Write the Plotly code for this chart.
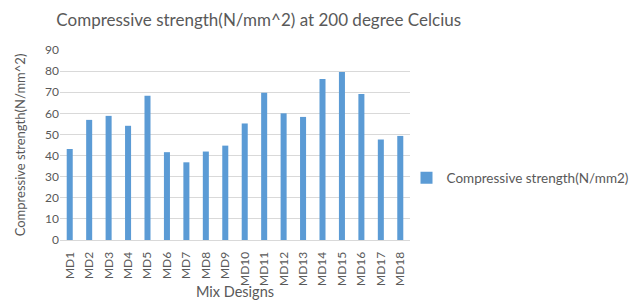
import plotly.graph_objects as go

categories = ["MD1","MD2","MD3","MD4","MD5","MD6","MD7","MD8","MD9","MD10",
              "MD11","MD12","MD13","MD14","MD15","MD16","MD17","MD18"]
strength = [43.1, 56.9, 58.8, 54.1, 68.3, 41.6, 36.8, 41.9, 44.7, 55.2,
            69.8, 60.0, 58.3, 76.3, 79.6, 69.2, 47.6, 49.3]
y_ticks = [0, 10, 20, 30, 40, 50, 60, 70, 80, 90]

FONT = "Lato"
GRAY = "#595959"

fig = go.Figure(go.Bar(
    x=categories, y=strength,
    name="Compressive strength(N/mm2)",
    marker=dict(color="#5B9BD5", line=dict(width=0)),
    showlegend=True,
))

fig.update_layout(
    width=631, height=300,
    margin=dict(l=60, r=221, t=50, b=60, autoexpand=False),
    paper_bgcolor="white", plot_bgcolor="white",
    bargap=0.69,
    font=dict(family=FONT, color=GRAY, size=12),
    title=dict(text="Compressive strength(N/mm^2) at 200 degree Celcius",
               x=0.41, xanchor="center", y=0.933, yanchor="middle",
               font=dict(family=FONT, size=17, color=GRAY)),
    legend=dict(x=0.99, xanchor="left", y=0.326, yanchor="middle",
                font=dict(family=FONT, size=13.5, color=GRAY),
                bgcolor="rgba(0,0,0,0)", itemwidth=30),
    xaxis=dict(tickangle=-90, showline=True, linecolor="#D9D9D9",
               ticks="outside", ticklen=6, tickcolor="rgba(0,0,0,0)",
               tickfont=dict(size=12, color=GRAY),
               title=dict(text="Mix Designs", font=dict(size=14.5, color=GRAY), standoff=8)),
    yaxis=dict(range=[0, 90], tickvals=y_ticks, showgrid=True, gridcolor="#D9D9D9",
               zeroline=False, ticks="", tickfont=dict(size=12, color=GRAY),
               title=dict(text="Compressive strength(N/mm^2)", font=dict(size=13, color=GRAY), standoff=16)),
)

fig.write_html("out.html", config={"displayModeBar": False},
               post_script="document.body.style.margin='0';")
